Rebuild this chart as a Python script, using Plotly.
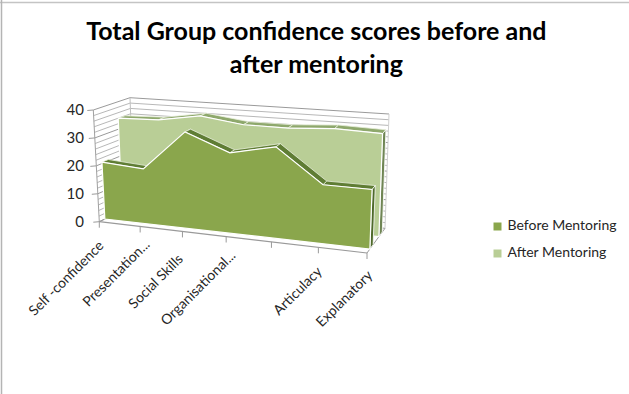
import plotly.graph_objects as go

# Chart content
TITLE = "Total Group confidence scores before and<br>after mentoring"
CATEGORIES = ["Self -confidence", "Presentation...", "Social Skills", "Organisational...", "", "Articulacy", "Explanatory"]
BEFORE = [20.5, 19.5, 34, 28, 31.5, 20, 20]
AFTER = [34, 34.5, 37, 35, 35, 36, 35.5]
SERIES_NAMES = ["Before Mentoring", "After Mentoring"]
VALUE_TICKS = [0, 10, 20, 30, 40]
GRID_STEP = 2

W, H = 629, 394
FONT = "Lato"
VMAX = 40
N = len(CATEGORIES) - 1

# Perspective box: screen position of the eight corners, keyed by (category end, value end, depth end)
BOX = {
    (0, 0, 0): (99.3, 221.7), (0, 1, 0): (93.3, 110.0),
    (1, 0, 0): (367.0, 253.0), (1, 1, 0): (371.5, 133.0),
    (0, 0, 1): (134.0, 205.0), (0, 1, 1): (130.0, 97.7),
    (1, 0, 1): (385.0, 228.3), (1, 1, 1): (389.0, 114.0),
}
FORESHORTEN = 0.11
Y0_PX, PX_PER_SCORE = 221.7, 2.79


def to_y(px_y):
    return (Y0_PX - px_y) / PX_PER_SCORE


def project(cat, value, depth):
    """Map (category index, score, depth 0..1) to axis coordinates through the box."""
    t = cat / N
    u = t / (1 + FORESHORTEN * (1 - t))
    v, d = value / VMAX, depth
    px = py = 0.0
    for (a, b, c), (x, y) in BOX.items():
        k = (u if a else 1 - u) * (v if b else 1 - v) * (d if c else 1 - d)
        px += k * x
        py += k * y
    return px, to_y(py)


def nudge(pt, right, down):
    """Shift an axis-space point by a number of screen pixels."""
    return pt[0] + right, pt[1] - down / PX_PER_SCORE


fig = go.Figure()


def poly(points, fill, line="rgba(0,0,0,0)", width=0):
    xs, ys = zip(*points)
    fig.add_trace(go.Scatter(x=list(xs) + [xs[0]], y=list(ys) + [ys[0]], mode="lines", fill="toself",
                             fillcolor=fill, line=dict(color=line, width=width),
                             hoverinfo="skip", showlegend=False))


def seg(a, b, color, width=1):
    fig.add_trace(go.Scatter(x=[a[0], b[0]], y=[a[1], b[1]], mode="lines", line=dict(color=color, width=width),
                             hoverinfo="skip", showlegend=False))


# Walls and floor
poly([project(0, 0, 0), project(N, 0, 0), project(N, 0, 1), project(0, 0, 1)], "#ffffff")
for score in range(0, VMAX + 1, GRID_STEP):
    color = "#9a9a9a" if score % 10 == 0 else "#b8b8b8"
    seg(project(0, score, 0), project(0, score, 1), color)
    seg(project(0, score, 1), project(N, score, 1), color)
seg(project(0, 0, 0), project(0, VMAX, 0), "#a0a0a0")
seg(project(0, 0, 1), project(0, VMAX, 1), "#c0c0c0")
seg(project(N, 0, 1), project(N, VMAX, 1), "#d0d0d0")
seg(project(0, 0, 0), project(0, 0, 1), "#9a9a9a")
seg(project(N, 0, 0), project(N, 0, 1), "#9a9a9a")
seg(project(0, 0, 0), project(N, 0, 0), "#9a9a9a", 1.2)

# Axis tick marks
for score in VALUE_TICKS:
    a = project(0, score, 0)
    seg(a, nudge(a, -6, 0.5), "#9a9a9a")
for i in range(N + 1):
    a = project(i, 0, 0)
    seg(a, nudge(a, 0, 6), "#9a9a9a")


def area(values, d0, d1, front, top, side):
    """One ribbon: top facets back to front, end cap, then the front face."""
    for i in range(N):
        poly([project(i, values[i], d0), project(i + 1, values[i + 1], d0),
              project(i + 1, values[i + 1], d1), project(i, values[i], d1)], top, "#e9efdc", 0.8)
    poly([project(N, 0, d0), project(N, values[N], d0), project(N, values[N], d1), project(N, 0, d1)],
         side, "#ffffff", 0.8)
    face = [project(i, values[i], d0) for i in range(N + 1)] + [project(N, 0, d0), project(0, 0, d0)]
    poly(face, front, "#ffffff", 1.2)


area(AFTER, 0.66, 0.85, "#b9ce96", "#8ea86c", "#6f8554")
area(BEFORE, 0.16, 0.34, "#8aa64c", "#5f7d34", "#4f6a2b")

# Legend, built from the series names
LEGEND_Y = [to_y(226.5), to_y(253.5)]
fig.add_trace(go.Scatter(x=[497.5, 497.5], y=LEGEND_Y, mode="markers",
                         marker=dict(symbol="square", size=8, color=["#8aa64c", "#b9ce96"]),
                         hoverinfo="skip", showlegend=False))
fig.add_trace(go.Scatter(x=[507.5, 507.5], y=LEGEND_Y, mode="text", text=SERIES_NAMES, textposition="middle right",
                         textfont=dict(family=FONT, size=14, color="#262626"),
                         hoverinfo="skip", showlegend=False))

# Slanted category labels hang below the tick marks, centred along their own length
annotations = []
for i, label in enumerate(CATEGORIES):
    if label:
        half = len(label) * 6.2 / 2 * 0.707
        right, down = 1.5 - half, 20.5 + half
        if label.endswith("..."):
            right, down = right + 7, down - 7
        x, y = nudge(project(i, 0, 0), right, down)
        annotations.append(dict(x=x, y=y, xref="x", yref="y", text=label, showarrow=False, textangle=-45,
                                xanchor="center", yanchor="middle",
                                font=dict(family=FONT, size=14, color="#262626")))

# Page frame along the top and left edges
shapes = [
    dict(type="line", xref="paper", yref="paper", x0=0, x1=1, y0=1 - 2.5 / H, y1=1 - 2.5 / H,
         line=dict(color="#c4c4c4", width=1.5)),
    dict(type="line", xref="paper", yref="paper", x0=1.5 / W, x1=1.5 / W, y0=0, y1=1,
         line=dict(color="#b4b4b4", width=1.5)),
]

fig.update_layout(
    width=W, height=H, margin=dict(l=0, r=0, t=0, b=0), paper_bgcolor="white", plot_bgcolor="white",
    showlegend=False, annotations=annotations, shapes=shapes,
    title=dict(text=TITLE, x=0.503, xanchor="center", y=1 - 40 / H, yanchor="top",
               font=dict(family=FONT, size=25, color="#000000", weight="bold")),
    xaxis=dict(range=[0, W], visible=False, fixedrange=True),
    yaxis=dict(range=[to_y(H), to_y(0)], anchor="free", position=84 / W,
               tickvals=VALUE_TICKS, showgrid=False, zeroline=False, showline=False, ticks="",
               tickfont=dict(family=FONT, size=15, color="#262626"), fixedrange=True),
)

fig.write_html("out.html", config={"displayModeBar": False})
